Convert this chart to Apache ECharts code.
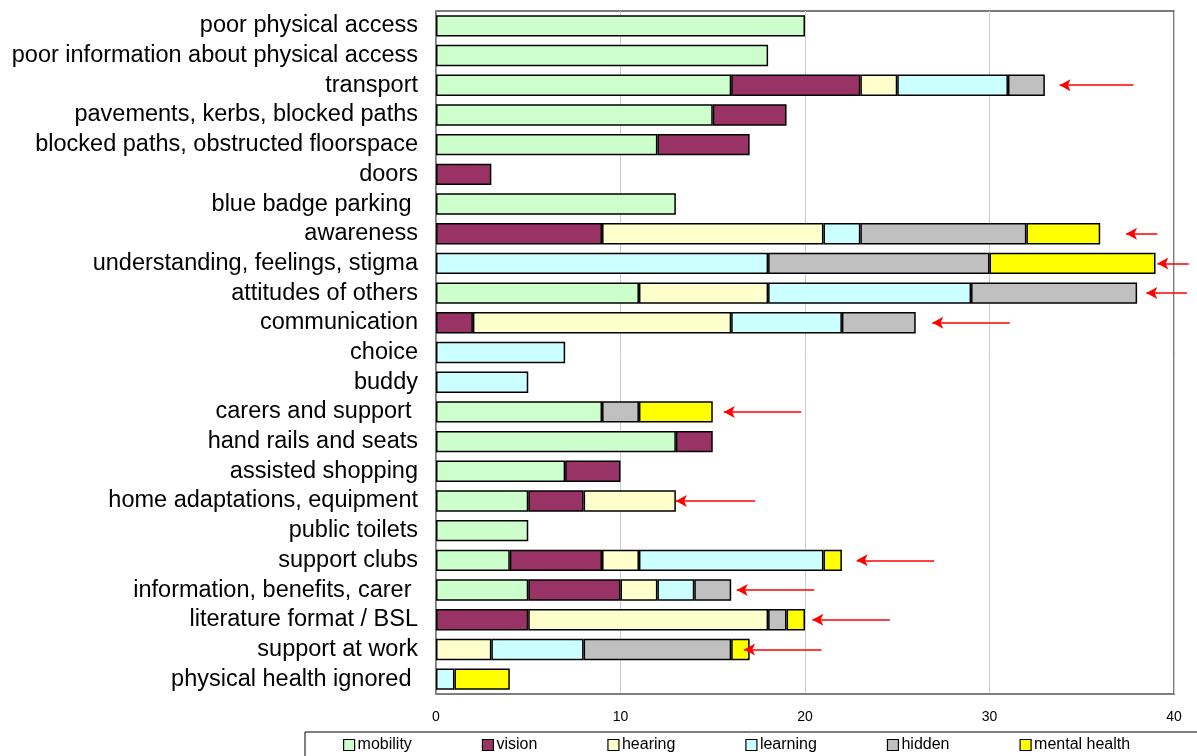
<!DOCTYPE html>
<html>
<head>
<meta charset="utf-8">
<script src="https://cdn.jsdelivr.net/npm/echarts@6/dist/echarts.min.js"></script>
<style>
html,body{margin:0;padding:0;background:#fff}
#chart{width:1197px;height:756px}
</style>
</head>
<body>
<div id="chart"></div>
<script>
// categories top to bottom
const categories = [
  'poor physical access', 'poor information about physical access', 'transport',
  'pavements, kerbs, blocked paths', 'blocked paths, obstructed floorspace', 'doors',
  'blue badge parking ', 'awareness', 'understanding, feelings, stigma',
  'attitudes of others', 'communication', 'choice', 'buddy', 'carers and support ',
  'hand rails and seats', 'assisted shopping', 'home adaptations, equipment',
  'public toilets', 'support clubs', 'information, benefits, carer ',
  'literature format / BSL', 'support at work', 'physical health ignored '
];
const seriesNames = ['mobility', 'vision', 'hearing', 'learning', 'hidden', 'mental health'];
const seriesColors = ['#ccffcc', '#993366', '#ffffcc', '#ccffff', '#c0c0c0', '#ffff00'];

const mobility = [20, 18, 16, 15, 12, '-', 13, '-', '-', 11, '-', '-', '-', 9, 13, 7, 5, 5, 4, 5, '-', '-', '-'];
const vision   = ['-', '-', 7, 4, 5, 3, '-', 9, '-', '-', 2, '-', '-', '-', 2, 3, 3, '-', 5, 5, 5, '-', '-'];
const hearing  = ['-', '-', 2, '-', '-', '-', '-', 12, '-', 7, 14, '-', '-', '-', '-', '-', 5, '-', 2, 2, 13, 3, '-'];
const learning = ['-', '-', 6, '-', '-', '-', '-', 2, 18, 11, 6, 7, 5, '-', '-', '-', '-', '-', 10, 2, '-', 5, 1];
const hidden   = ['-', '-', 2, '-', '-', '-', '-', 9, 12, 9, 4, '-', '-', 2, '-', '-', '-', '-', '-', 2, 1, 8, '-'];
const mental   = ['-', '-', '-', '-', '-', '-', '-', 4, 9, '-', '-', '-', '-', 4, '-', '-', '-', '-', 1, '-', 1, 1, 3];

// red annotation arrows (row, tail x, tip x)
const arrowRows = [2, 7, 8, 9, 10, 13, 16, 18, 19, 20, 21];
const arrowTail = [37.8, 39.1, 40.8, 40.7, 31.1, 19.8, 17.3, 27.0, 20.5, 24.6, 20.9];
const arrowTip  = [33.8, 37.4, 39.1, 38.5, 26.9, 15.6, 13.0, 22.8, 16.3, 20.4, 16.7];

const allData = [mobility, vision, hearing, learning, hidden, mental];

const W = 1197, gridLeft = 436, gridRight = 23;
// hidden overlay axis that runs to the right edge, same scale, so arrows may stick out
const overlayMax = 40 * (W - gridLeft) / (W - gridLeft - gridRight);

const arrowLines = arrowRows.map(function (r, i) {
  return [
    { coord: [arrowTail[i], categories[r]] },
    { coord: [arrowTip[i], categories[r]] }
  ];
});

const series = seriesNames.map(function (name, i) {
  return {
    name: name,
    type: 'bar',
    stack: 'total',
    data: allData[i],
    barCategoryGap: '28%',
    itemStyle: { color: seriesColors[i], borderColor: '#000', borderWidth: 1.5 },
    emphasis: { disabled: true }
  };
});
series.push({
  name: 'arrows',
  type: 'line',
  xAxisIndex: 1,
  yAxisIndex: 1,
  data: [],
  markLine: {
    silent: true,
    animation: false,
    symbol: ['none', 'arrow'],
    symbolSize: [9, 11],
    label: { show: false },
    lineStyle: { color: '#ff0000', width: 1.5, type: 'solid' },
    emphasis: { disabled: true },
    data: arrowLines
  }
});

const chart = echarts.init(document.getElementById('chart'));
chart.setOption({
  animation: false,
  textStyle: { fontFamily: 'Liberation Sans, Arial, sans-serif' },
  grid: [
    { left: gridLeft, right: gridRight, top: 11, bottom: 62,
      show: true, borderColor: '#505050', borderWidth: 1.5 },
    { left: gridLeft, right: 0, top: 11, bottom: 62 }
  ],
  xAxis: [{
    type: 'value', min: 0, max: 40, interval: 10,
    axisLine: { show: true, lineStyle: { color: '#808080', width: 1.5 } },
    axisTick: { show: false },
    splitLine: { lineStyle: { color: '#cccccc', width: 1 } },
    axisLabel: { color: '#000', fontSize: 14, margin: 16 }
  }, {
    type: 'value', gridIndex: 1, min: 0, max: overlayMax, show: false
  }],
  yAxis: [{
    type: 'category', data: categories, inverse: true,
    axisLine: { show: true, lineStyle: { color: '#808080', width: 1.5 } },
    axisTick: { show: false },
    axisLabel: { color: '#000', fontSize: 23.5, margin: 18, interval: 0 }
  }, {
    type: 'category', gridIndex: 1, data: categories, inverse: true, show: false
  }],
  legend: {
    data: seriesNames,
    left: 305, top: 732,
    width: 1100,
    padding: [5, 120, 10, 38],
    borderColor: '#000', borderWidth: 1,
    itemWidth: 11, itemHeight: 11, itemGap: 70,
    icon: 'rect',
    itemStyle: { borderColor: '#000', borderWidth: 1.2 },
    textStyle: { color: '#000', fontSize: 16, padding: [0, 0, 0, -2] }
  },
  series: series
});
</script>
</body>
</html>
